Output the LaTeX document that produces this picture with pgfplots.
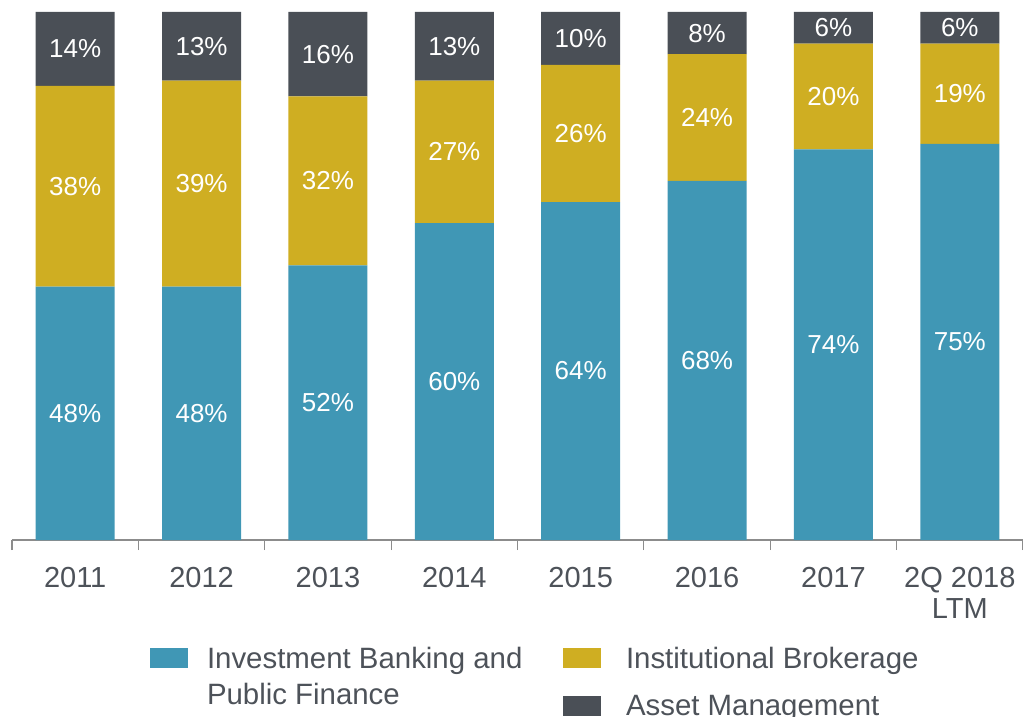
\documentclass[border=0pt]{standalone}
\usepackage{pgfplots}
\pgfplotsset{compat=1.18}
\usepackage{pgfplotstable}
\usepackage{fontspec}
\setmainfont{Liberation Sans}
\definecolor{ibblue}{HTML}{4097B5}
\definecolor{brgold}{HTML}{CFAE22}
\definecolor{amgray}{HTML}{4A4F56}
\definecolor{txtgray}{HTML}{4D5259}
\definecolor{axgray}{HTML}{8C8C8C}

\pgfplotstableread{
x ib br am
0 48 38 14
1 48 39 13
2 52 32 16
3 60 27 13
4 64 26 10
5 68 24 8
6 74 20 6
7 75 19 6
}\datatable

\begin{document}
\begin{tikzpicture}
\pgfplotsset{
  common/.style={
    scale only axis, width=505.5pt, height=264pt,
    xmin=-0.5, xmax=7.5, ymin=0, ymax=100,
  },
  sqlegend/.style={legend image code/.code={\fill[##1] (0pt,-4.5pt) rectangle (19pt,5.5pt);}},
}
\begin{axis}[common, name=main,
  ybar stacked, bar width=39.5pt,
  axis y line=none,
  axis x line*=bottom,
  x axis line style={-, draw=axgray, line width=0.6pt},
  xtick={0,...,7},
  xticklabels={2011,2012,2013,2014,2015,2016,2017,{2Q 2018\\LTM}},
  major tick length=0pt,
  minor xtick={-0.5,0.5,...,7.5},
  minor tick length=5pt,
  tick align=outside,
  tick style={draw=axgray, line width=0.6pt},
  xticklabel style={font=\fontsize{14.5}{15.5}\selectfont, text=txtgray, align=center, anchor=north, inner sep=0pt, yshift=-13.5pt},
  legend columns=2, transpose legend,
  legend cell align=left,
  legend style={at={(0.1365,-0.203)}, anchor=north west, draw=none, fill=none,
    inner sep=0pt, outer sep=0pt, font=\fontsize{14.7}{18}\selectfont, text=txtgray,
    nodes={inner sep=0pt}, row sep=12pt,
    /tikz/every odd column/.append style={column sep=9.5pt},
    /tikz/every even column/.append style={column sep=20pt}},
  ybar legend/.style={sqlegend},
]
\addplot[fill=ibblue, draw=none, forget plot] table[x=x, y=ib]{\datatable};
\addplot[fill=brgold, draw=none, forget plot] table[x=x, y=br]{\datatable};
\addplot[fill=amgray, draw=none, forget plot] table[x=x, y=am]{\datatable};
\addlegendimage{fill=ibblue, draw=none, sqlegend}
\addlegendentry{\parbox[t]{158pt}{Investment Banking and\\Public Finance}}
\addlegendimage{empty legend}
\addlegendentry{}
\addlegendimage{fill=brgold, draw=none, sqlegend}
\addlegendentry{\hspace{3pt}Institutional Brokerage}
\addlegendimage{fill=amgray, draw=none, sqlegend}
\addlegendentry{\hspace{3pt}Asset Management}
\end{axis}
\begin{axis}[common, hide axis,
  point meta=explicit symbolic,
  nodes near coords={\pgfplotspointmeta\%},
  every node near coord/.style={anchor=center, font=\fontsize{13}{13}\selectfont, text=white, inner sep=0pt}]
\addplot[draw=none, mark=none] table[x=x, y expr=\thisrow{ib}/2, meta=ib]{\datatable};
\addplot[draw=none, mark=none] table[x=x, y expr=\thisrow{ib}+\thisrow{br}/2, meta=br]{\datatable};
\addplot[draw=none, mark=none] table[x=x, y expr=\thisrow{ib}+\thisrow{br}+\thisrow{am}/2, meta=am]{\datatable};
\end{axis}
\pgfresetboundingbox
\path[use as bounding box] ([xshift=-6pt,yshift=-88pt]main.south west) rectangle ([yshift=6pt]main.north east);
\end{tikzpicture}
\end{document}
